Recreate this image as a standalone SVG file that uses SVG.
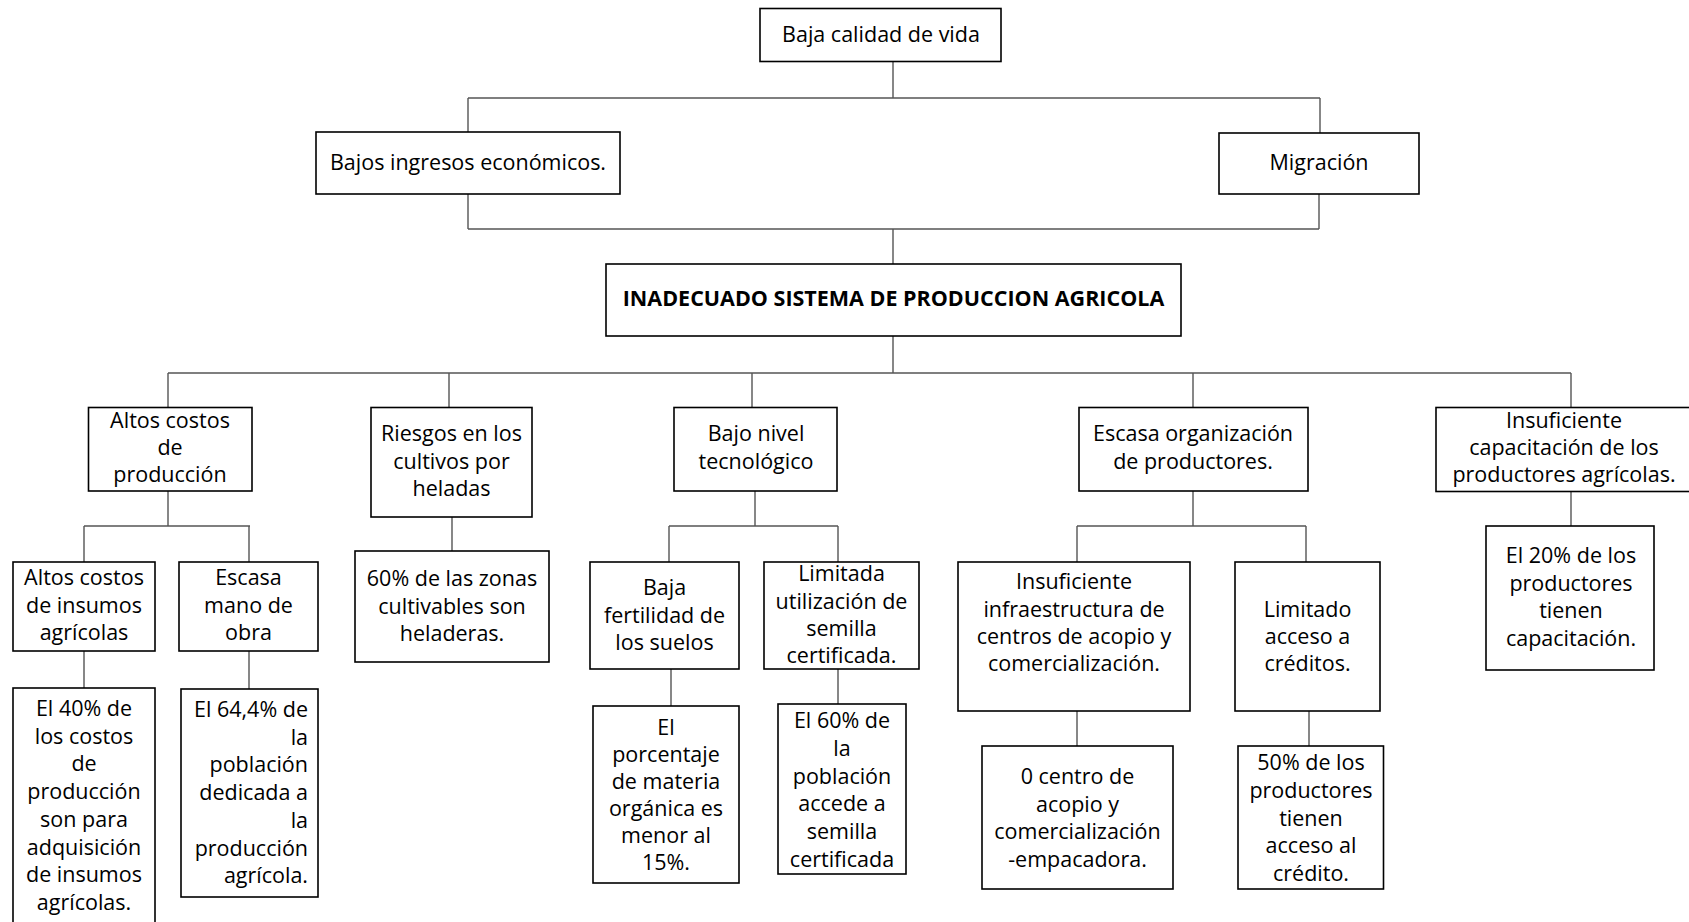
<svg xmlns="http://www.w3.org/2000/svg" width="1689" height="922" viewBox="0 0 1689 922">
<style>
.box{fill:#fff;stroke:#000;stroke-width:1.6}
.t{font-family:"Open Sans","Liberation Sans",sans-serif;font-size:21.5px;fill:#000;text-anchor:middle}
.b{font-weight:bold}
.r{text-anchor:end}
#connectors path{fill:none;stroke:#555;stroke-width:1.4}
</style>
<rect width="1689" height="922" fill="#fff"/>
<g id="connectors">
<path d="M893 61.5V98M468 98H1320M468 98V132M1320 98V133"/>
<path d="M468 194V229M1319 194V229M468 229H1319M893 229V264"/>
<path d="M893 336V373M168 373H1571M168 373V407.5M449 373V407.5M752 373V407.5M1193 373V407.5M1571 373V407.5"/>
<path d="M168 491V526M84 526H250M84 526V562M249 526V562M84 651V688M249 651V689"/>
<path d="M452 517V551"/>
<path d="M755 491V526M669 526H838M669 526V562M838 526V562M671 669V706M838 669V704"/>
<path d="M1193 491V526M1077 526H1306M1077 526V562M1306 526V562M1077 711V746M1309 711V746"/>
<path d="M1571 491V526"/>
</g>
<g id="n-baja-calidad"><rect class="box" x="760" y="8.5" width="241" height="53"/><text class="t" x="881" y="41.5">Baja calidad de vida</text></g>
<g id="n-bajos-ingresos"><rect class="box" x="316" y="132" width="304" height="62"/><text class="t" x="468" y="170">Bajos ingresos económicos.</text></g>
<g id="n-migracion"><rect class="box" x="1219" y="133" width="200" height="61"/><text class="t" x="1319" y="170">Migración</text></g>
<g id="n-inadecuado"><rect class="box" x="606" y="264" width="575" height="72"/><text class="t b" x="893.5" y="306">INADECUADO SISTEMA DE PRODUCCION AGRICOLA</text></g>
<g id="n-altos-costos-prod"><rect class="box" x="88.5" y="407.5" width="163.5" height="83.5"/><text class="t" x="170"><tspan x="170" y="428">Altos costos</tspan><tspan x="170" y="455">de</tspan><tspan x="170" y="482">producción</tspan></text></g>
<g id="n-riesgos"><rect class="box" x="371" y="407.5" width="161" height="109.5"/><text class="t"><tspan x="451.5" y="441">Riesgos en los</tspan><tspan x="451.5" y="468.5">cultivos por</tspan><tspan x="451.5" y="496">heladas</tspan></text></g>
<g id="n-bajo-nivel"><rect class="box" x="674" y="407.5" width="163" height="83.5"/><text class="t"><tspan x="756" y="441">Bajo nivel</tspan><tspan x="756" y="468.5">tecnológico</tspan></text></g>
<g id="n-escasa-org"><rect class="box" x="1079" y="407.5" width="229" height="83.5"/><text class="t"><tspan x="1193" y="441">Escasa organización</tspan><tspan x="1193" y="468.5">de productores.</tspan></text></g>
<g id="n-insuf-cap"><rect class="box" x="1436" y="407.5" width="256" height="84"/><text class="t"><tspan x="1564" y="428">Insuficiente</tspan><tspan x="1564" y="455">capacitación de los</tspan><tspan x="1564" y="482">productores agrícolas.</tspan></text></g>
<g id="n-altos-insumos"><rect class="box" x="13" y="562" width="142" height="89"/><text class="t"><tspan x="84" y="585">Altos costos</tspan><tspan x="84" y="612.5">de insumos</tspan><tspan x="84" y="640">agrícolas</tspan></text></g>
<g id="n-escasa-mano"><rect class="box" x="179" y="562" width="139" height="89"/><text class="t"><tspan x="248.5" y="585">Escasa</tspan><tspan x="248.5" y="612.5">mano de</tspan><tspan x="248.5" y="640">obra</tspan></text></g>
<g id="n-60-zonas"><rect class="box" x="355" y="551" width="194" height="111"/><text class="t"><tspan x="452" y="586">60% de las zonas</tspan><tspan x="452" y="613.5">cultivables son</tspan><tspan x="452" y="641">heladeras.</tspan></text></g>
<g id="n-baja-fert"><rect class="box" x="590" y="562" width="149" height="107"/><text class="t"><tspan x="664.5" y="595">Baja</tspan><tspan x="664.5" y="622.5">fertilidad de</tspan><tspan x="664.5" y="650">los suelos</tspan></text></g>
<g id="n-limitada"><rect class="box" x="764" y="562" width="155" height="107"/><text class="t"><tspan x="841.5" y="581">Limitada</tspan><tspan x="841.5" y="608.5">utilización de</tspan><tspan x="841.5" y="636">semilla</tspan><tspan x="841.5" y="663">certificada.</tspan></text></g>
<g id="n-insuf-infra"><rect class="box" x="958" y="562" width="232" height="149"/><text class="t"><tspan x="1074" y="589">Insuficiente</tspan><tspan x="1074" y="616.5">infraestructura de</tspan><tspan x="1074" y="644">centros de acopio y</tspan><tspan x="1074" y="671">comercialización.</tspan></text></g>
<g id="n-limitado-acceso"><rect class="box" x="1235" y="562" width="145" height="149"/><text class="t"><tspan x="1307.5" y="616.5">Limitado</tspan><tspan x="1307.5" y="644">acceso a</tspan><tspan x="1307.5" y="671">créditos.</tspan></text></g>
<g id="n-20-cap"><rect class="box" x="1486" y="526" width="168" height="144"/><text class="t"><tspan x="1571" y="563">El 20% de los</tspan><tspan x="1571" y="590.5">productores</tspan><tspan x="1571" y="618">tienen</tspan><tspan x="1571" y="645.5">capacitación.</tspan></text></g>
<g id="n-40-costos"><rect class="box" x="13" y="688" width="142" height="250"/><text class="t"><tspan x="84" y="716">El 40% de</tspan><tspan x="84" y="743.7">los costos</tspan><tspan x="84" y="771.4">de</tspan><tspan x="84" y="799.1">producción</tspan><tspan x="84" y="826.8">son para</tspan><tspan x="84" y="854.5">adquisición</tspan><tspan x="84" y="882.2">de insumos</tspan><tspan x="84" y="909.9">agrícolas.</tspan></text></g>
<g id="n-64-poblacion"><rect class="box" x="181" y="689" width="137" height="208"/><text class="t r"><tspan x="308" y="717">El 64,4% de</tspan><tspan x="308" y="744.7">la</tspan><tspan x="308" y="772.4">población</tspan><tspan x="308" y="800.1">dedicada a</tspan><tspan x="308" y="827.8">la</tspan><tspan x="308" y="855.5">producción</tspan><tspan x="308" y="883.2">agrícola.</tspan></text></g>
<g id="n-porcentaje"><rect class="box" x="593" y="706" width="146" height="177"/><text class="t"><tspan x="666" y="735">El</tspan><tspan x="666" y="762">porcentaje</tspan><tspan x="666" y="789">de materia</tspan><tspan x="666" y="816">orgánica es</tspan><tspan x="666" y="843">menor al</tspan><tspan x="666" y="869.5">15%.</tspan></text></g>
<g id="n-60-semilla"><rect class="box" x="778" y="704" width="128" height="170"/><text class="t"><tspan x="842" y="728">El 60% de</tspan><tspan x="842" y="755.8">la</tspan><tspan x="842" y="783.6">población</tspan><tspan x="842" y="811.4">accede a</tspan><tspan x="842" y="839.2">semilla</tspan><tspan x="842" y="867">certificada</tspan></text></g>
<g id="n-0-centro"><rect class="box" x="982" y="746" width="191" height="143"/><text class="t"><tspan x="1077.5" y="784">0 centro de</tspan><tspan x="1077.5" y="811.7">acopio y</tspan><tspan x="1077.5" y="839.4">comercialización</tspan><tspan x="1077.5" y="867">-empacadora.</tspan></text></g>
<g id="n-50-credito"><rect class="box" x="1238" y="746" width="145.5" height="143"/><text class="t"><tspan x="1311" y="770">50% de los</tspan><tspan x="1311" y="797.8">productores</tspan><tspan x="1311" y="825.6">tienen</tspan><tspan x="1311" y="853.4">acceso al</tspan><tspan x="1311" y="881">crédito.</tspan></text></g>
</svg>
